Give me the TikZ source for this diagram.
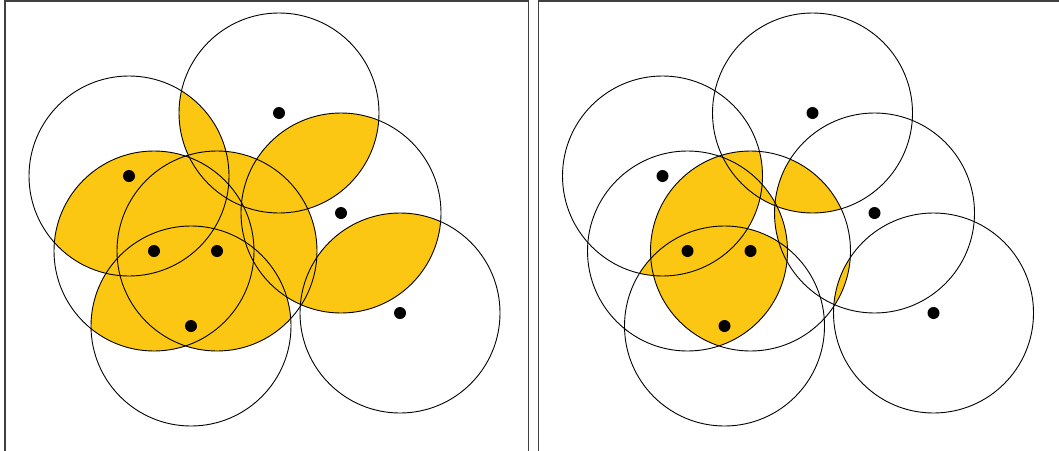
\documentclass[tikz,border=0pt]{standalone}
\definecolor{gold}{HTML}{FBC712}
\tikzset{
  ring/.style={draw=black, line width=0.9pt},
  spot/.style={fill=black},
  frame/.style={draw=black!75, line width=1.3pt}
}
\newcommand\circlist{279/113,129/176,341/213,154/251,217/251,191/326,400/313}
\begin{document}
\begin{tikzpicture}[x=1pt,y=-1pt]
\useasboundingbox (0,0) rectangle (1059,450);
\clip (0,0) rectangle (1059,450);
% frames
\draw[frame] (5,1) rectangle (528.5,470);
\draw[frame] (538.5,1) rectangle (1080,470);
% left panel: pairwise overlaps
\begin{scope}
\foreach \xa/\ya [count=\i] in \circlist {
  \foreach \xb/\yb [count=\j] in \circlist {
    \ifnum\j>\i
      \begin{scope}
        \clip (\xa,\ya) circle[radius=100pt];
        \fill[gold] (\xb,\yb) circle[radius=100pt];
      \end{scope}
    \fi
  }
}
\foreach \xa/\ya in \circlist {
  \draw[ring] (\xa,\ya) circle[radius=100pt];
  \fill[spot] (\xa,\ya) circle[radius=6pt];
}
\end{scope}
% right panel: triple overlaps (one triple left white)
\begin{scope}[xshift=533.5pt]
\foreach \xa/\ya [count=\i] in \circlist {
  \foreach \xb/\yb [count=\j] in \circlist {
    \ifnum\j>\i
      \foreach \xc/\yc [count=\k] in \circlist {
        \ifnum\k>\j
          \ifnum\numexpr100*\i+10*\j+\k\relax=356 \else
          \begin{scope}
            \clip (\xa,\ya) circle[radius=100pt];
            \clip (\xb,\yb) circle[radius=100pt];
            \fill[gold] (\xc,\yc) circle[radius=100pt];
          \end{scope}
          \fi
        \fi
      }
    \fi
  }
}
\foreach \xa/\ya in \circlist {
  \draw[ring] (\xa,\ya) circle[radius=100pt];
  \fill[spot] (\xa,\ya) circle[radius=6pt];
}
\end{scope}
\end{tikzpicture}
\end{document}
